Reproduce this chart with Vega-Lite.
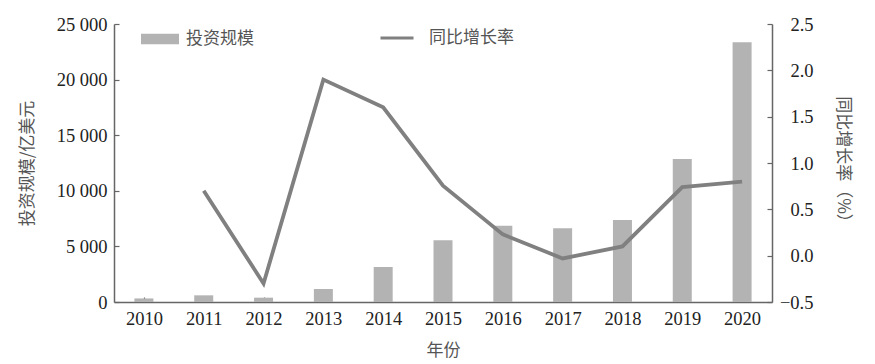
{
  "$schema": "https://vega.github.io/schema/vega-lite/v6.json",
  "width": 658,
  "height": 278,
  "autosize": "none",
  "padding": {"left": 114, "top": 24, "right": 103, "bottom": 62},
  "background": "white",
  "config": {
    "view": {"stroke": null},
    "font": "Liberation Serif",
    "axis": {
      "labelFont": "Liberation Serif",
      "labelFontSize": 18.5,
      "labelColor": "#222222",
      "titleFont": "Noto Sans CJK SC",
      "titleFontSize": 17,
      "titleFontWeight": "normal",
      "titleColor": "#555555",
      "domainColor": "#666666",
      "domainWidth": 1.5,
      "tickColor": "#666666",
      "tickWidth": 1.2,
      "grid": false
    },
    "legend": {
      "labelFont": "Noto Sans CJK SC",
      "labelFontSize": 17,
      "labelColor": "#555555"
    }
  },
  "data": {
    "values": [
      {"year": "2010", "scale": 320, "growth": null, "s1": "投资规模", "s2": "同比增长率"},
      {"year": "2011", "scale": 600, "growth": 0.70, "s1": "投资规模", "s2": "同比增长率"},
      {"year": "2012", "scale": 390, "growth": -0.30, "s1": "投资规模", "s2": "同比增长率"},
      {"year": "2013", "scale": 1170, "growth": 1.90, "s1": "投资规模", "s2": "同比增长率"},
      {"year": "2014", "scale": 3150, "growth": 1.60, "s1": "投资规模", "s2": "同比增长率"},
      {"year": "2015", "scale": 5550, "growth": 0.755, "s1": "投资规模", "s2": "同比增长率"},
      {"year": "2016", "scale": 6860, "growth": 0.23, "s1": "投资规模", "s2": "同比增长率"},
      {"year": "2017", "scale": 6630, "growth": -0.03, "s1": "投资规模", "s2": "同比增长率"},
      {"year": "2018", "scale": 7370, "growth": 0.10, "s1": "投资规模", "s2": "同比增长率"},
      {"year": "2019", "scale": 12860, "growth": 0.74, "s1": "投资规模", "s2": "同比增长率"},
      {"year": "2020", "scale": 23350, "growth": 0.80, "s1": "投资规模", "s2": "同比增长率"}
    ]
  },
  "encoding": {
    "x": {
      "field": "year",
      "type": "ordinal",
      "scale": {"type": "point", "padding": 0.5},
      "axis": {
        "title": "年份",
        "labelAngle": 0,
        "tickSize": -5,
        "labelPadding": 12,
        "titlePadding": 15
      }
    }
  },
  "layer": [
    {
      "mark": {"type": "bar", "size": 19},
      "encoding": {
        "y": {
          "field": "scale",
          "type": "quantitative",
          "scale": {"domain": [0, 25000], "nice": false},
          "axis": {
            "title": "投资规模/亿美元",
            "orient": "left",
            "values": [0, 5000, 10000, 15000, 20000, 25000],
            "labelExpr": "replace(format(datum.value, ','), ',', ' ')",
            "tickSize": -5,
            "labelPadding": 12,
            "titlePadding": 20
          }
        },
        "fill": {
          "field": "s1",
          "type": "nominal",
          "scale": {"range": ["#b3b3b3"]},
          "legend": {
            "title": null,
            "orient": "none",
            "legendX": 27,
            "legendY": -4,
            "symbolType": "M-1,-0.27H1V0.27H-1Z",
            "symbolSize": 1444,
            "symbolStrokeWidth": 0,
            "symbolOpacity": 1,
            "labelOffset": 7
          }
        }
      }
    },
    {
      "mark": {"type": "line", "strokeWidth": 3.8, "color": "#808080"},
      "encoding": {
        "y": {
          "field": "growth",
          "type": "quantitative",
          "scale": {"domain": [-0.5, 2.5], "nice": false, "zero": false},
          "axis": {
            "title": "同比增长率（%）",
            "orient": "right",
            "values": [-0.5, 0, 0.5, 1, 1.5, 2, 2.5],
            "labelExpr": "replace(format(datum.value, '.1f'), '-', '−')",
            "labelAlign": "right",
            "tickSize": -5,
            "labelPadding": 46,
            "titlePadding": 20
          }
        },
        "stroke": {
          "field": "s2",
          "type": "nominal",
          "scale": {"range": ["#808080"]},
          "legend": {
            "title": null,
            "orient": "none",
            "legendX": 265,
            "legendY": -4,
            "symbolType": "M-1,0H1",
            "symbolSize": 1089,
            "symbolStrokeWidth": 3,
            "labelOffset": 14
          }
        }
      }
    }
  ],
  "resolve": {"scale": {"y": "independent", "fill": "independent", "stroke": "independent"}}
}
